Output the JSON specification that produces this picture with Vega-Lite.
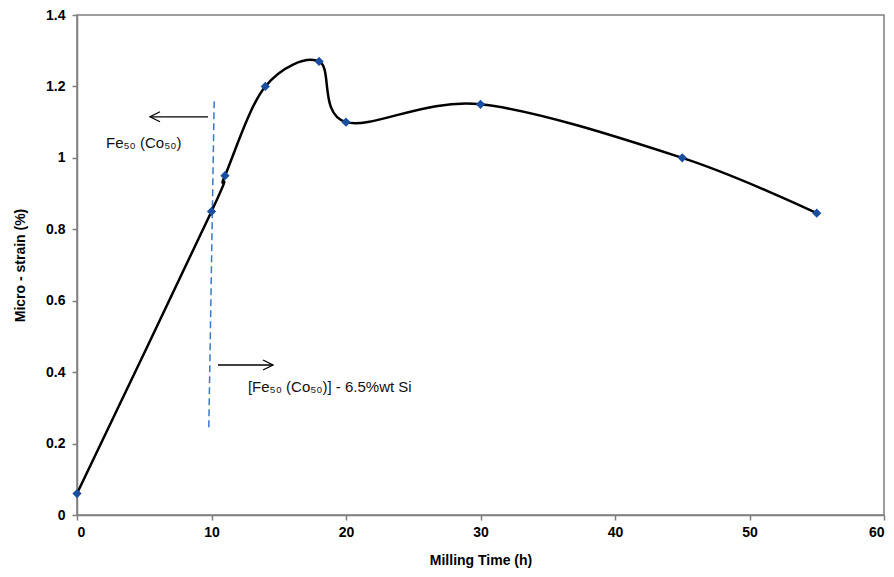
{
  "$schema": "https://vega.github.io/schema/vega-lite/v6.json",
  "autosize": "none",
  "width": 807,
  "height": 500,
  "padding": {"left": 77, "top": 15, "right": 10, "bottom": 62},
  "background": "white",
  "config": {
    "view": {"stroke": "#7f7f7f", "strokeWidth": 1.5},
    "font": "Liberation Sans"
  },
  "datasets": {
    "strain": [
      {"t": 0, "s": 0.06},
      {"t": 10, "s": 0.85},
      {"t": 11, "s": 0.95},
      {"t": 14, "s": 1.2},
      {"t": 18, "s": 1.27},
      {"t": 20, "s": 1.1},
      {"t": 30, "s": 1.15},
      {"t": 45, "s": 1.0},
      {"t": 55, "s": 0.845}
    ],
    "dash": [
      {"x": 10.2, "y": 1.161},
      {"x": 9.8, "y": 0.246}
    ],
    "arrows": [
      {"id": "L", "ord": 1, "x": 9.74, "y": 1.115},
      {"id": "L", "ord": 2, "x": 5.43, "y": 1.115},
      {"id": "LH", "ord": 1, "x": 6.17, "y": 1.129},
      {"id": "LH", "ord": 2, "x": 5.43, "y": 1.115},
      {"id": "LH", "ord": 3, "x": 6.17, "y": 1.101},
      {"id": "R", "ord": 1, "x": 10.48, "y": 0.42},
      {"id": "R", "ord": 2, "x": 14.57, "y": 0.42},
      {"id": "RH", "ord": 1, "x": 13.83, "y": 0.434},
      {"id": "RH", "ord": 2, "x": 14.57, "y": 0.42},
      {"id": "RH", "ord": 3, "x": 13.83, "y": 0.406}
    ],
    "labels": [
      {"x": 2.16, "y": 1.042, "txt": "Fe₅₀ (Co₅₀)"},
      {"x": 12.71, "y": 0.358, "txt": "[Fe₅₀ (Co₅₀)] - 6.5%wt Si"}
    ]
  },
  "layer": [
    {
      "data": {"name": "dash"},
      "mark": {"type": "line", "color": "#3a78c9", "strokeWidth": 1.5, "strokeDash": [7, 4]},
      "encoding": {
        "x": {"field": "x", "type": "quantitative"},
        "y": {"field": "y", "type": "quantitative"}
      }
    },
    {
      "data": {"name": "arrows"},
      "mark": {"type": "line", "color": "black", "strokeWidth": 1.3},
      "encoding": {
        "x": {"field": "x", "type": "quantitative"},
        "y": {"field": "y", "type": "quantitative"},
        "detail": {"field": "id"},
        "order": {"field": "ord"}
      }
    },
    {
      "data": {"name": "labels"},
      "mark": {"type": "text", "align": "left", "baseline": "middle", "fontSize": 15, "fontWeight": 500, "color": "#111"},
      "encoding": {
        "x": {"field": "x", "type": "quantitative"},
        "y": {"field": "y", "type": "quantitative"},
        "text": {"field": "txt"}
      }
    },
    {
      "data": {"name": "strain"},
      "mark": {"type": "line", "color": "black", "strokeWidth": 2.5, "interpolate": "cardinal"},
      "encoding": {
        "x": {
          "field": "t", "type": "quantitative",
          "scale": {"domain": [0, 60], "nice": false},
          "axis": {
            "values": [0, 10, 20, 30, 40, 50, 60],
            "title": "Milling Time (h)",
            "grid": false,
            "domainColor": "#7f7f7f", "domainWidth": 1.5,
            "tickColor": "#7f7f7f", "tickSize": 5, "tickWidth": 1.5,
            "labelFont": "Liberation Sans", "labelFontWeight": "bold", "labelFontSize": 14, "labelColor": "black",
            "labelPadding": 5,
            "titleFont": "Liberation Sans", "titleFontWeight": "bold", "titleFontSize": 14, "titleColor": "black",
            "titlePadding": 14
          }
        },
        "y": {
          "field": "s", "type": "quantitative",
          "scale": {"domain": [0, 1.4], "nice": false},
          "axis": {
            "values": [0, 0.2, 0.4, 0.6, 0.8, 1, 1.2, 1.4],
            "format": ".1~f",
            "title": "Micro - strain (%)",
            "grid": false,
            "domainColor": "#7f7f7f", "domainWidth": 1.5,
            "tickColor": "#7f7f7f", "tickSize": 5, "tickWidth": 1.5,
            "labelFont": "Liberation Sans", "labelFontWeight": "bold", "labelFontSize": 14, "labelColor": "black",
            "labelPadding": 7,
            "titleFont": "Liberation Sans", "titleFontWeight": "bold", "titleFontSize": 14, "titleColor": "black",
            "titlePadding": 18
          }
        }
      }
    },
    {
      "data": {"name": "strain"},
      "mark": {"type": "point", "shape": "diamond", "filled": true, "color": "#1a4fa0", "size": 85, "opacity": 1},
      "encoding": {
        "x": {"field": "t", "type": "quantitative"},
        "y": {"field": "s", "type": "quantitative"}
      }
    }
  ]
}
